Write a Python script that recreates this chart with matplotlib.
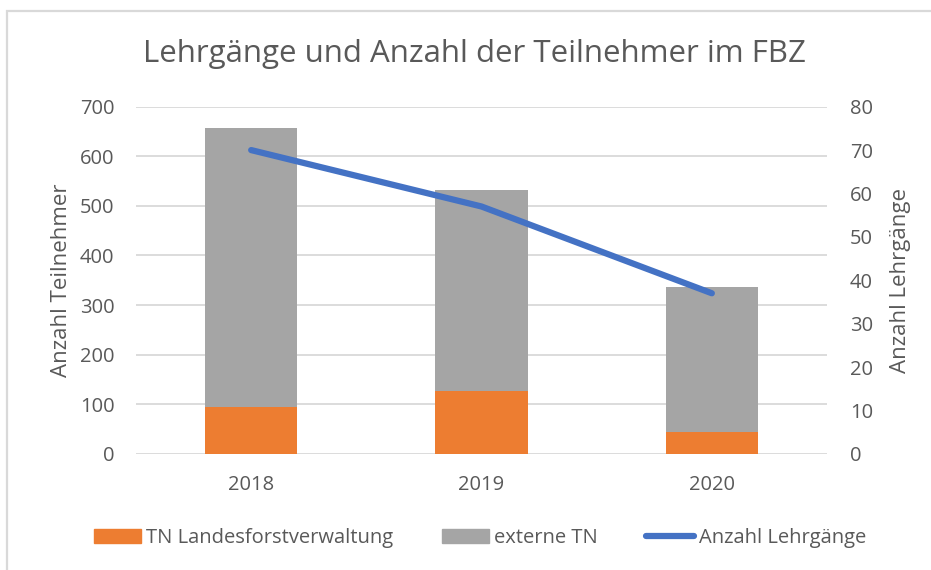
import matplotlib
matplotlib.use("Agg")
import matplotlib.pyplot as plt
from matplotlib.patches import Rectangle
from matplotlib.lines import Line2D
from matplotlib.patches import Patch

years = ["2018", "2019", "2020"]
tn_landesforst = [95, 126, 44]
tn_total = [658, 532, 337]
externe_tn = [t - l for t, l in zip(tn_total, tn_landesforst)]
anzahl_lehrgaenge = [70, 57, 37]

left_ticks = [0, 100, 200, 300, 400, 500, 600, 700]
right_ticks = [0, 10, 20, 30, 40, 50, 60, 70, 80]

plt.rcParams['font.family'] = ['Open Sans', 'DejaVu Sans']
txt = '#595959'
orange = '#ED7D31'
gray = '#A5A5A5'
blue = '#4472C4'
fs = 14.5

fig = plt.figure(figsize=(9.31, 5.70), dpi=100)
W, H = 931, 570
fig.patches.append(Rectangle((6.5 / W, -0.02), 1.1, (H - 11) / H + 0.02,
                             transform=fig.transFigure, fill=False,
                             edgecolor='#D9D9D9', linewidth=1.6))

ax = fig.add_axes([136 / W, (H - 453.8) / H, (827 - 136) / W, (453.8 - 106.7) / H])
x = range(len(years))
ax.bar(x, tn_landesforst, width=0.4, color=orange, zorder=3)
ax.bar(x, externe_tn, width=0.4, bottom=tn_landesforst, color=gray, zorder=3)
ax.set_ylim(0, 700)
ax.set_xlim(-0.5, 2.5)
ax.set_yticks(left_ticks)
ax.set_xticks(list(x))
ax.set_xticklabels(years)
ax.grid(axis='y', color='#D9D9D9', linewidth=1.3, zorder=0)
for s in ax.spines.values():
    s.set_visible(False)
ax.tick_params(axis='both', length=0, colors=txt, labelsize=fs)
ax.tick_params(axis='y', pad=15.5)
ax.tick_params(axis='x', pad=15)
ax.set_ylabel('Anzahl Teilnehmer', color=txt, fontsize=16, labelpad=6)

ax2 = ax.twinx()
ax2.plot(list(x), anzahl_lehrgaenge, color=blue, linewidth=4.5, solid_capstyle='round', zorder=4)
ax2.set_ylim(0, 80)
ax2.set_yticks(right_ticks)
for s in ax2.spines.values():
    s.set_visible(False)
ax2.tick_params(axis='y', length=0, colors=txt, labelsize=fs, pad=16.5)
ax2.set_ylabel('Anzahl Lehrgänge', color=txt, fontsize=16, labelpad=12)

fig.text(474 / W, (H - 54) / H, 'Lehrgänge und Anzahl der Teilnehmer im FBZ',
         ha='center', va='center', color=txt, fontsize=22.5)

handles = [Patch(color=orange), Patch(color=gray),
           Line2D([0], [0], color=blue, linewidth=4.5, solid_capstyle='round')]
labels = ['TN Landesforstverwaltung', 'externe TN', 'Anzahl Lehrgänge']
fig.legend(handles, labels, loc='center', bbox_to_anchor=(480 / W, (H - 538) / H),
           ncol=3, frameon=False, fontsize=fs, labelcolor=txt,
           handlelength=2.35, handletextpad=0.25, columnspacing=2.4)

fig.savefig('out.png', dpi=100)
